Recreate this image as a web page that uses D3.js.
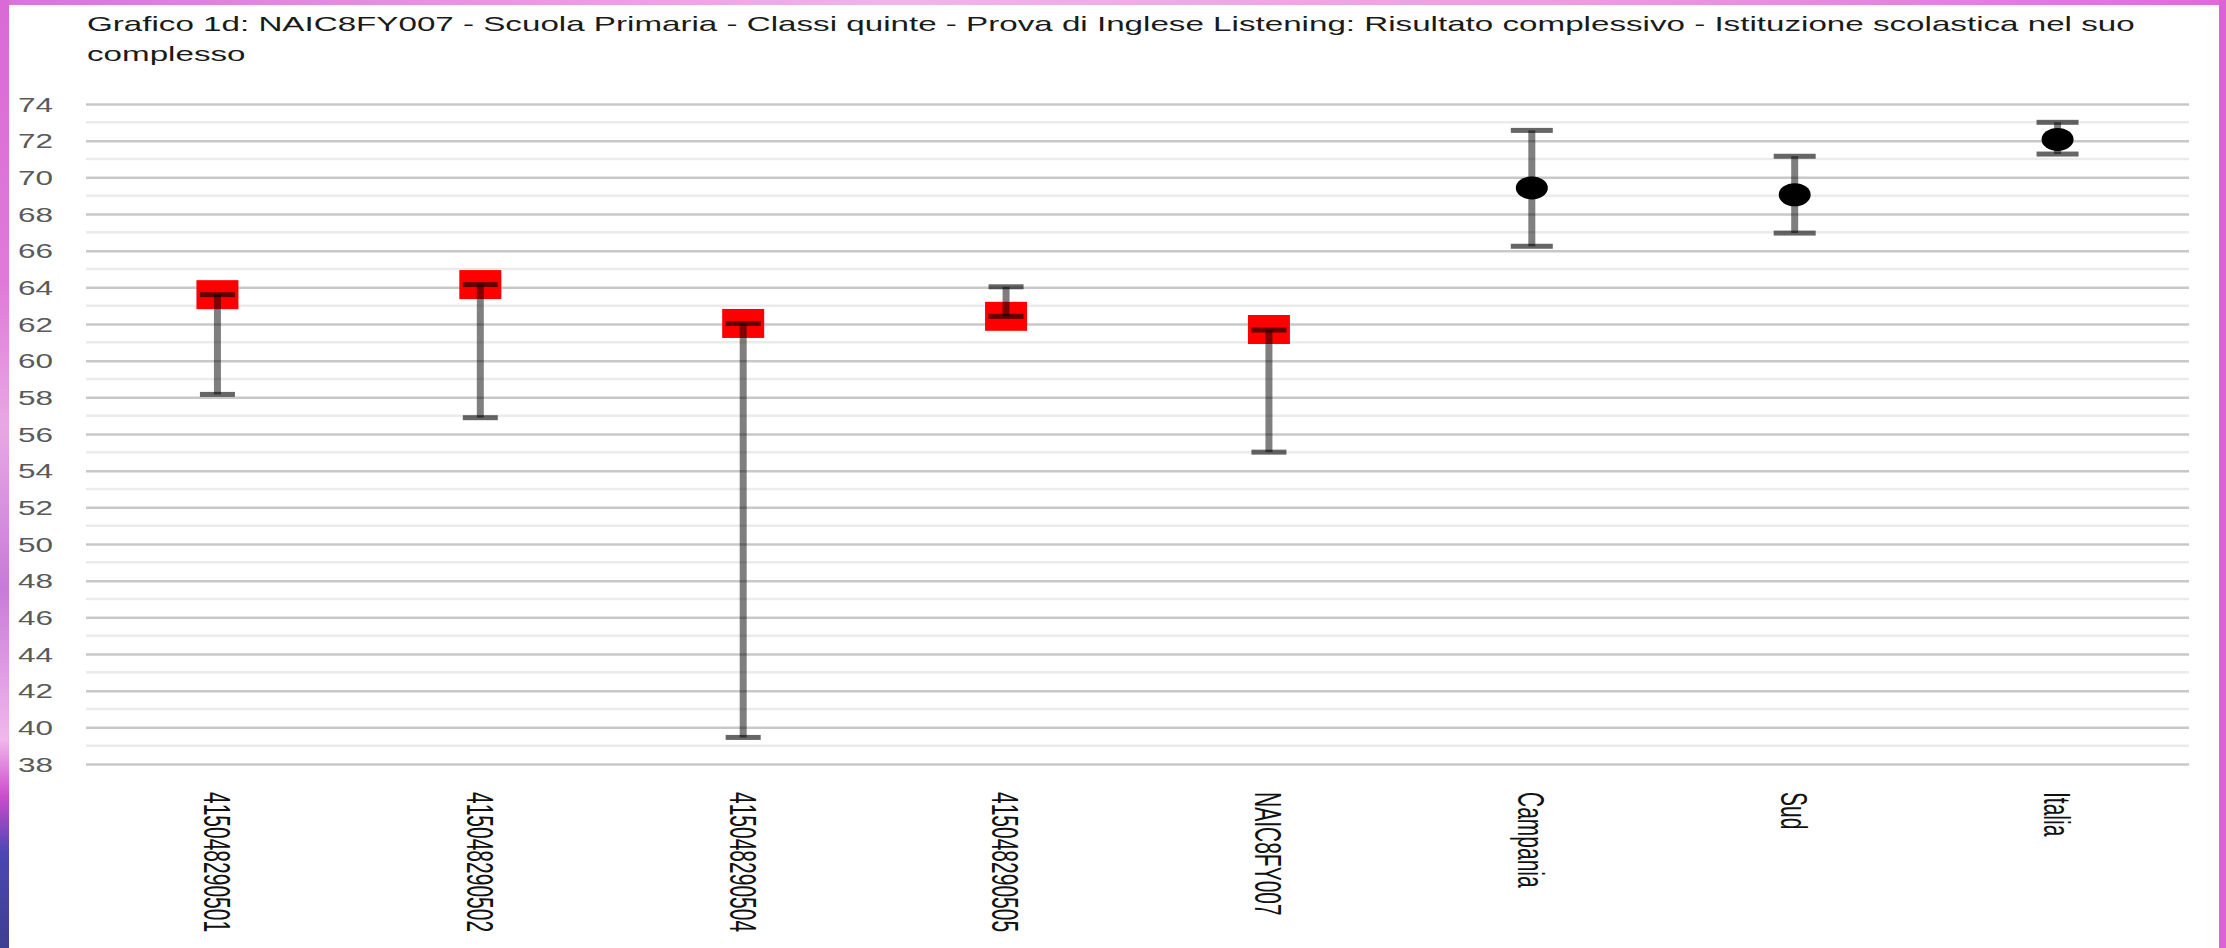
<!DOCTYPE html>
<html>
<head>
<meta charset="utf-8">
<script src="https://cdn.jsdelivr.net/npm/d3@7"></script>
<style>
  html, body { margin: 0; padding: 0; overflow: hidden; background: #fff; }
  svg { display: block; }
</style>
</head>
<body>
<div id="chart"></div>
<script>

//******************************************************************************
//**  Data
//******************************************************************************
var categories = ["415048290501", "415048290502", "415048290504", "415048290505",
                  "NAIC8FY007", "Campania", "Sud", "Italia"];
var values = [63.6, 64.15, 62.03, 62.42, 61.7, 69.42, 69.05, 72.07];
var lowerBounds = [58.16, 56.89, 39.45, 62.42, 55.01, 66.24, 66.96, 71.27];
var upperBounds = [63.6, 64.15, 62.03, 64.03, 61.67, 72.56, 71.15, 73.0];
var markers = ["square", "square", "square", "square", "square", "dot", "dot", "dot"];
var yTicks = [38, 40, 42, 44, 46, 48, 50, 52, 54, 56, 58, 60, 62, 64, 66, 68, 70, 72, 74];
var titleLines = [
    "Grafico 1d: NAIC8FY007 - Scuola Primaria - Classi quinte - Prova di Inglese Listening: Risultato complessivo - Istituzione scolastica nel suo",
    "complesso"
];


//******************************************************************************
//**  Chart
//******************************************************************************
var width = 2226, height = 948;
var margin = {top: 104, right: 37, bottom: 184, left: 86};
var stretch = 1.5;      // the picture is wider than it is tall, text included
var font = "'Liberation Sans', Arial, sans-serif";

var svg = d3.select("#chart").append("svg")
    .attr("width", width)
    .attr("height", height);

// background frame (desktop showing round the window)
var defs = svg.append("defs");
var gl = defs.append("linearGradient").attr("id", "leftFrame")
    .attr("x1", 0).attr("y1", 0).attr("x2", 0).attr("y2", 1);
[["0%", "#d96ad6"], ["30%", "#e07ad8"], ["45%", "#e8a8e4"], ["62%", "#c87ad8"],
 ["78%", "#f0b8ec"], ["84%", "#cc4ccc"], ["90%", "#4b46b4"], ["100%", "#3d3f8f"]]
    .forEach(function(s){ gl.append("stop").attr("offset", s[0]).attr("stop-color", s[1]); });

var gt = defs.append("linearGradient").attr("id", "topFrame")
    .attr("x1", 0).attr("y1", 0).attr("x2", 1).attr("y2", 0);
[["0%", "#d874d6"], ["40%", "#f0b4ea"], ["70%", "#e8a0e0"], ["100%", "#e06ada"]]
    .forEach(function(s){ gt.append("stop").attr("offset", s[0]).attr("stop-color", s[1]); });

svg.append("rect").attr("width", width).attr("height", height).attr("fill", "url(#topFrame)");
svg.append("rect").attr("width", 9).attr("height", height).attr("fill", "url(#leftFrame)");
svg.append("rect").attr("x", 2219).attr("width", 7).attr("height", height).attr("fill", "#dd62d8");
svg.append("rect").attr("x", 9).attr("y", 5).attr("width", 2210).attr("height", height - 5)
    .attr("fill", "#fff");

// scales
var x = d3.scaleBand()
    .domain(categories)
    .range([margin.left, width - margin.right])
    .padding(0);

var y = d3.scaleLinear()
    .domain([38, 74])
    .range([height - margin.bottom, margin.top]);

var cx = function(i){ return x(categories[i]) + x.bandwidth() / 2; };

// title
var title = svg.append("text")
    .attr("transform", "translate(87,0) scale(1.58,1)")
    .attr("font-family", font)
    .attr("font-size", "21px")
    .attr("fill", "#1a1a1a");
titleLines.forEach(function(t, i){
    title.append("tspan").attr("x", 0).attr("y", 31 + i * 30).text(t);
});

// grid lines: minor (odd) first, then major (even)
var minor = d3.range(39, 74, 2);
svg.append("g").selectAll("line").data(minor).enter().append("line")
    .attr("x1", margin.left).attr("x2", width - margin.right)
    .attr("y1", function(d){ return y(d); }).attr("y2", function(d){ return y(d); })
    .attr("stroke", "#ebebeb").attr("stroke-width", 2.5);

var yAxis = d3.axisLeft(y).tickValues(yTicks).tickSize(-(width - margin.left - margin.right)).tickPadding(0);
var yg = svg.append("g")
    .attr("transform", "translate(" + margin.left + ",0)")
    .call(yAxis);
yg.select(".domain").remove();
yg.selectAll(".tick line").attr("stroke", "#c8c8c8").attr("stroke-width", 2.5);
yg.selectAll(".tick text")
    .attr("x", null).attr("dy", null)
    .attr("text-anchor", "end")
    .attr("dominant-baseline", "central")
    .attr("transform", "translate(-33,0) scale(" + stretch + ",1)")
    .attr("font-family", font)
    .attr("font-size", "21px")
    .attr("fill", "#5a5a5a");

// x labels, rotated, reading top to bottom
var xg = svg.append("g");
xg.selectAll("text").data(categories).enter().append("text")
    .attr("transform", function(d, i){
        return "translate(" + cx(i) + ",792) scale(1.8,1) rotate(90)";
    })
    .attr("text-anchor", "start")
    .attr("dominant-baseline", "central")
    .attr("font-family", font)
    .attr("font-size", "21px")
    .attr("fill", "#111")
    .text(function(d){ return d; });

// markers
var idx = d3.range(categories.length);
var mg = svg.append("g");
idx.forEach(function(i){
    if (markers[i] === "square"){
        mg.append("rect")
            .attr("x", cx(i) - 21).attr("y", y(values[i]) - 14.5)
            .attr("width", 42).attr("height", 29)
            .attr("fill", "#ff0000");
    } else {
        mg.append("ellipse")
            .attr("cx", cx(i)).attr("cy", y(values[i]))
            .attr("rx", 16).attr("ry", 11.5)
            .attr("fill", "#000");
    }
});

// error bars, half transparent over the markers
var eg = svg.append("g").attr("fill", "#000");
idx.forEach(function(i){
    var capW = markers[i] === "square" ? 35 : 42;
    var y0 = y(upperBounds[i]), y1 = y(lowerBounds[i]);
    eg.append("rect")
        .attr("x", cx(i) - 3.5).attr("y", y0)
        .attr("width", 7).attr("height", y1 - y0)
        .attr("fill-opacity", 0.5);
    [y0, y1].forEach(function(yy){
        eg.append("rect")
            .attr("x", cx(i) - capW / 2).attr("y", yy - 2.5)
            .attr("width", capW).attr("height", 5)
            .attr("fill-opacity", 0.6);
    });
});

</script>
</body>
</html>
